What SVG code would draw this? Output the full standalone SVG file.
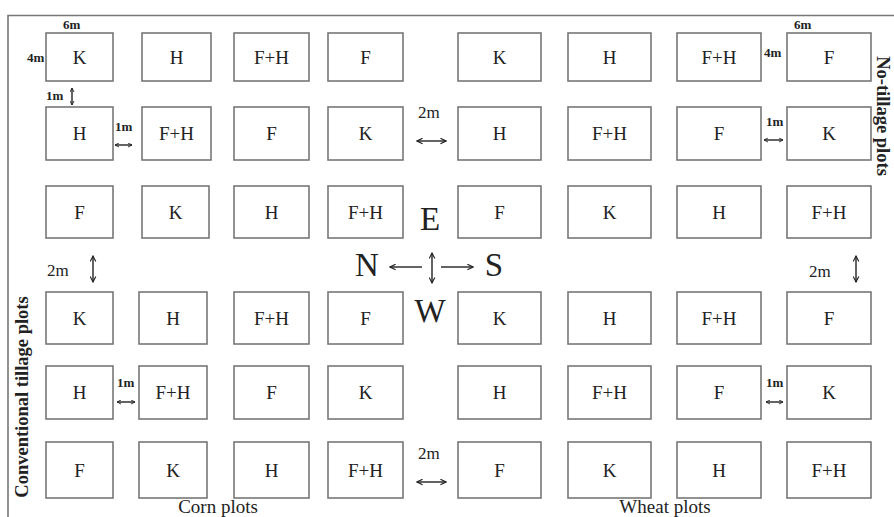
<svg xmlns="http://www.w3.org/2000/svg" width="894" height="517" viewBox="0 0 894 517">
<style>
.plot rect{fill:#fff;stroke:#777;stroke-width:1.6}
.plot text{font-family:"Liberation Serif",serif;font-size:19px;fill:#222;text-anchor:middle}
.lbl{font-family:"Liberation Serif",serif;fill:#222}
.sm{font-size:13px;font-weight:bold}
.md{font-size:17px}
.big{font-size:33px;text-anchor:middle}
.side{font-size:18.5px;font-weight:bold;text-anchor:middle}
.axis{font-size:19px;text-anchor:middle}
.arr{stroke:#222;stroke-width:1.4;fill:none}
</style>
<defs>
<marker id="ah" viewBox="0 0 10 10" refX="9" refY="5" markerWidth="7" markerHeight="7" markerUnits="userSpaceOnUse" orient="auto-start-reverse">
<path d="M1,1 L9,5 L1,9" fill="none" stroke="#222" stroke-width="1.6"/>
</marker>
<marker id="ahs" viewBox="0 0 10 10" refX="9" refY="5" markerWidth="5" markerHeight="5" markerUnits="userSpaceOnUse" orient="auto-start-reverse">
<path d="M1,1 L9,5 L1,9" fill="none" stroke="#222" stroke-width="1.8"/>
</marker>
</defs>
<rect width="894" height="517" fill="#fff"/>
<g id="frame">
<path d="M8,517 V15.5 H894" fill="none" stroke="#777" stroke-width="1.6"/>
</g>
<g id="plots" class="plot">
<g id="r1c1"><rect x="46" y="33" width="67" height="48"/><text x="79.5" y="64">K</text></g>
<g id="r1c2"><rect x="142" y="33" width="69" height="48"/><text x="176.5" y="64">H</text></g>
<g id="r1c3"><rect x="234" y="33" width="75" height="48"/><text x="271.5" y="64">F+H</text></g>
<g id="r1c4"><rect x="328" y="33" width="75" height="48"/><text x="365.5" y="64">F</text></g>
<g id="r1c5"><rect x="458" y="33" width="83" height="48"/><text x="499.5" y="64">K</text></g>
<g id="r1c6"><rect x="568" y="33" width="83" height="48"/><text x="609.5" y="64">H</text></g>
<g id="r1c7"><rect x="677" y="33" width="84" height="48"/><text x="719" y="64">F+H</text></g>
<g id="r1c8"><rect x="787" y="33" width="84" height="48"/><text x="829" y="64">F</text></g>

<g id="r2c1"><rect x="46" y="107" width="67" height="53"/><text x="79.5" y="140">H</text></g>
<g id="r2c2"><rect x="142" y="107" width="69" height="53"/><text x="176.5" y="140">F+H</text></g>
<g id="r2c3"><rect x="234" y="107" width="75" height="53"/><text x="271.5" y="140">F</text></g>
<g id="r2c4"><rect x="328" y="107" width="75" height="53"/><text x="365.5" y="140">K</text></g>
<g id="r2c5"><rect x="458" y="107" width="83" height="53"/><text x="499.5" y="140">H</text></g>
<g id="r2c6"><rect x="568" y="107" width="83" height="53"/><text x="609.5" y="140">F+H</text></g>
<g id="r2c7"><rect x="677" y="107" width="84" height="53"/><text x="719" y="140">F</text></g>
<g id="r2c8"><rect x="787" y="107" width="84" height="53"/><text x="829" y="140">K</text></g>

<g id="r3c1"><rect x="46" y="186" width="67" height="52"/><text x="79.5" y="219">F</text></g>
<g id="r3c2"><rect x="142" y="186" width="67" height="52"/><text x="175.5" y="219">K</text></g>
<g id="r3c3"><rect x="234" y="186" width="75" height="52"/><text x="271.5" y="219">H</text></g>
<g id="r3c4"><rect x="328" y="186" width="75" height="52"/><text x="365.5" y="219">F+H</text></g>
<g id="r3c5"><rect x="458" y="186" width="83" height="52"/><text x="499.5" y="219">F</text></g>
<g id="r3c6"><rect x="568" y="186" width="83" height="52"/><text x="609.5" y="219">K</text></g>
<g id="r3c7"><rect x="677" y="186" width="84" height="52"/><text x="719" y="219">H</text></g>
<g id="r3c8"><rect x="787" y="186" width="84" height="52"/><text x="829" y="219">F+H</text></g>

<g id="r4c1"><rect x="46" y="292" width="67" height="52"/><text x="79.5" y="325">K</text></g>
<g id="r4c2"><rect x="139" y="292" width="68" height="52"/><text x="173" y="325">H</text></g>
<g id="r4c3"><rect x="234" y="292" width="75" height="52"/><text x="271.5" y="325">F+H</text></g>
<g id="r4c4"><rect x="328" y="292" width="75" height="52"/><text x="365.5" y="325">F</text></g>
<g id="r4c5"><rect x="458" y="292" width="83" height="52"/><text x="499.5" y="325">K</text></g>
<g id="r4c6"><rect x="568" y="292" width="83" height="52"/><text x="609.5" y="325">H</text></g>
<g id="r4c7"><rect x="677" y="292" width="84" height="52"/><text x="719" y="325">F+H</text></g>
<g id="r4c8"><rect x="787" y="292" width="84" height="52"/><text x="829" y="325">F</text></g>

<g id="r5c1"><rect x="46" y="366" width="67" height="53"/><text x="79.5" y="399">H</text></g>
<g id="r5c2"><rect x="139" y="366" width="68" height="53"/><text x="173" y="399">F+H</text></g>
<g id="r5c3"><rect x="234" y="366" width="75" height="53"/><text x="271.5" y="399">F</text></g>
<g id="r5c4"><rect x="328" y="366" width="75" height="53"/><text x="365.5" y="399">K</text></g>
<g id="r5c5"><rect x="458" y="366" width="83" height="53"/><text x="499.5" y="399">H</text></g>
<g id="r5c6"><rect x="568" y="366" width="83" height="53"/><text x="609.5" y="399">F+H</text></g>
<g id="r5c7"><rect x="677" y="366" width="84" height="53"/><text x="719" y="399">F</text></g>
<g id="r5c8"><rect x="787" y="366" width="84" height="53"/><text x="829" y="399">K</text></g>

<g id="r6c1"><rect x="46" y="442" width="67" height="56"/><text x="79.5" y="477">F</text></g>
<g id="r6c2"><rect x="139" y="442" width="68" height="56"/><text x="173" y="477">K</text></g>
<g id="r6c3"><rect x="234" y="442" width="75" height="56"/><text x="271.5" y="477">H</text></g>
<g id="r6c4"><rect x="328" y="442" width="75" height="56"/><text x="365.5" y="477">F+H</text></g>
<g id="r6c5"><rect x="458" y="442" width="83" height="56"/><text x="499.5" y="477">F</text></g>
<g id="r6c6"><rect x="568" y="442" width="83" height="56"/><text x="609.5" y="477">K</text></g>
<g id="r6c7"><rect x="677" y="442" width="84" height="56"/><text x="719" y="477">H</text></g>
<g id="r6c8"><rect x="787" y="442" width="84" height="56"/><text x="829" y="477">F+H</text></g>
</g>

<g id="connectors">
<line class="arr" x1="72" y1="88" x2="72" y2="105" marker-start="url(#ahs)" marker-end="url(#ahs)"/>
<line class="arr" x1="115" y1="145" x2="132" y2="145" marker-start="url(#ahs)" marker-end="url(#ahs)"/>
<line class="arr" x1="764" y1="140" x2="783" y2="140" marker-start="url(#ahs)" marker-end="url(#ahs)"/>
<line class="arr" x1="117" y1="402" x2="135" y2="402" marker-start="url(#ahs)" marker-end="url(#ahs)"/>
<line class="arr" x1="766" y1="402" x2="783" y2="402" marker-start="url(#ahs)" marker-end="url(#ahs)"/>
<line class="arr" x1="417" y1="141" x2="446" y2="141" marker-start="url(#ah)" marker-end="url(#ah)"/>
<line class="arr" x1="417" y1="482" x2="446" y2="482" marker-start="url(#ah)" marker-end="url(#ah)"/>
<line class="arr" x1="93" y1="256" x2="93" y2="282" marker-start="url(#ah)" marker-end="url(#ah)"/>
<line class="arr" x1="856" y1="256" x2="856" y2="282" marker-start="url(#ah)" marker-end="url(#ah)"/>
<line class="arr" x1="422" y1="267" x2="390" y2="267" marker-end="url(#ah)"/>
<line class="arr" x1="441" y1="267" x2="473" y2="267" marker-end="url(#ah)"/>
<line class="arr" x1="432" y1="253" x2="432" y2="283" marker-start="url(#ah)" marker-end="url(#ah)"/>
</g>

<g id="labels" class="lbl">
<text class="lbl sm" x="63" y="29">6m</text>
<text class="lbl sm" x="27" y="62">4m</text>
<text class="lbl sm" x="46" y="100">1m</text>
<text class="lbl sm" x="115" y="131">1m</text>
<text class="lbl sm" x="794" y="29">6m</text>
<text class="lbl sm" x="764" y="57">4m</text>
<text class="lbl sm" x="766" y="126">1m</text>
<text class="lbl sm" x="117" y="387">1m</text>
<text class="lbl sm" x="766" y="387">1m</text>
<text class="lbl md" x="418" y="118">2m</text>
<text class="lbl md" x="418" y="459">2m</text>
<text class="lbl md" x="47" y="276">2m</text>
<text class="lbl md" x="809" y="277">2m</text>
<text class="lbl big" x="430" y="230">E</text>
<text class="lbl big" x="367" y="276">N</text>
<text class="lbl big" x="494" y="276">S</text>
<text class="lbl big" x="430" y="322">W</text>
<text class="lbl axis" x="218" y="513">Corn plots</text>
<text class="lbl axis" x="665" y="513">Wheat plots</text>
<text class="lbl side" transform="translate(28,397) rotate(-90)">Conventional tillage plots</text>
<text class="lbl side" transform="translate(877,116) rotate(90)">No-tillage plots</text>
</g>
</svg>
